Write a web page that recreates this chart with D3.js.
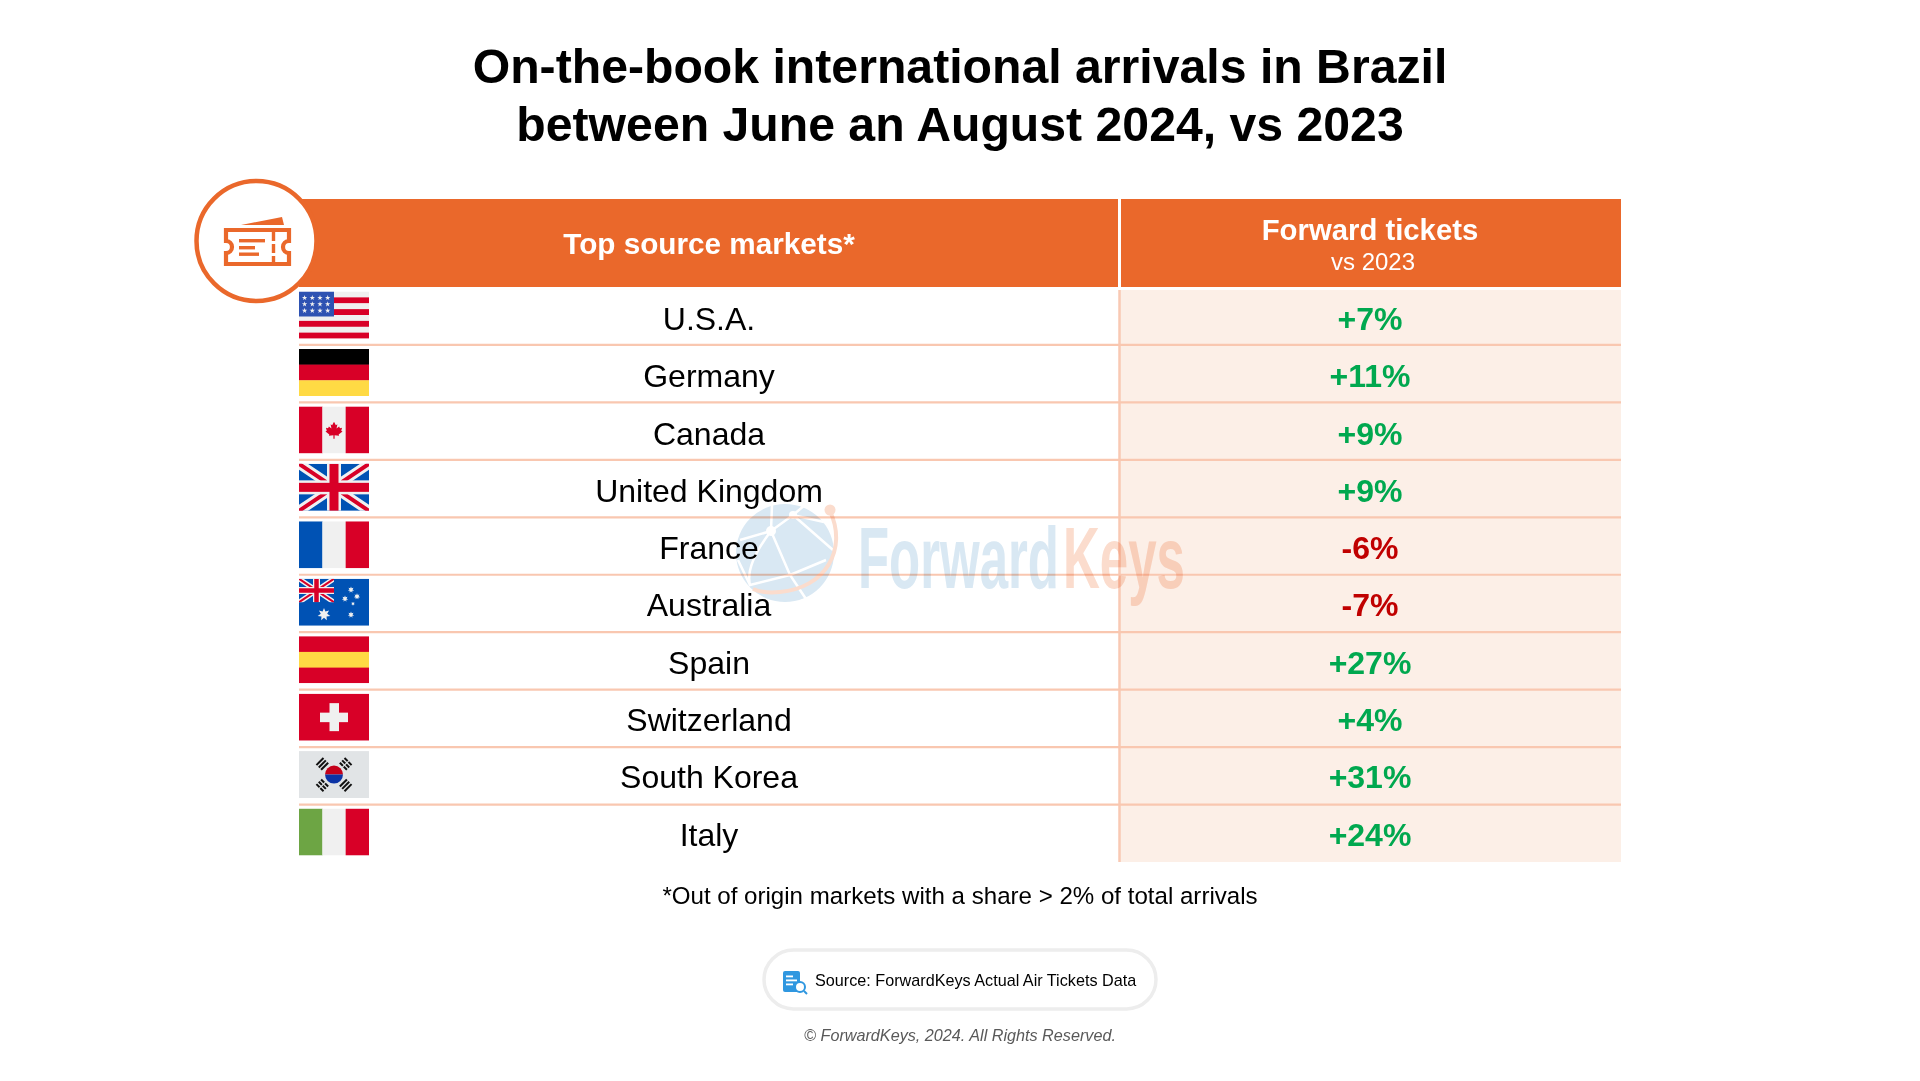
<!DOCTYPE html>
<html>
<head>
<meta charset="utf-8">
<script src="https://cdn.jsdelivr.net/npm/d3@7"></script>
<style>
  html, body { margin: 0; padding: 0; background: #fff; }
  svg { display: block; }
  text { font-family: "Liberation Sans", Arial, sans-serif; }
</style>
</head>
<body>
<div id="chart"></div>
<script>
// chart data
var markets = ["U.S.A.", "Germany", "Canada", "United Kingdom", "France", "Australia", "Spain", "Switzerland", "South Korea", "Italy"];
var ticketChange = [7, 11, 9, 9, -6, -7, 27, 4, 31, 24];
var flagCodes = ["us", "de", "ca", "gb", "fr", "au", "es", "ch", "kr", "it"];
var titleLines = ["On-the-book international arrivals in Brazil", "between June an August 2024, vs 2023"];

var ORANGE = "#ea682b", RED = "#d80027", BLUE = "#0052b4", WHITE = "#f0f0f0", YELLOW = "#ffda44";
var FW = 70, FH = 47;

var svg = d3.select("#chart").append("svg").attr("width", 1920).attr("height", 1081);
var defs = svg.append("defs");
defs.append("clipPath").attr("id", "flagClip").append("rect").attr("width", FW).attr("height", FH);
defs.append("clipPath").attr("id", "cantonClip").append("rect").attr("width", 35).attr("height", 23.5);

// layout scales
var y = d3.scaleBand().domain(markets).range([287.5, 862]);
var yText = d3.scaleBand().domain(markets).range([288.2, 861.2]); // text rows sit on a slightly tighter step
var x = d3.scaleOrdinal().domain(["market", "change"]).range([709, 1370]);
var tableLeft = 299, divider = 1119.5, tableRight = 1621;

function fmt(v) { return (v > 0 ? "+" : "") + v + "%"; }

// title
svg.append("g").selectAll("text").data(titleLines).join("text")
  .attr("x", 960).attr("y", function(d, i) { return 83 + i * 58; })
  .attr("text-anchor", "middle").attr("font-size", 48.2).attr("font-weight", "bold").attr("fill", "#000")
  .text(function(d) { return d; });

// header band
svg.append("rect").attr("x", tableLeft).attr("y", 199).attr("width", tableRight - tableLeft).attr("height", 88).attr("fill", ORANGE);
svg.append("line").attr("x1", divider).attr("x2", divider).attr("y1", 199).attr("y2", 287).attr("stroke", "#fff").attr("stroke-width", 3);

svg.append("text").attr("x", x("market")).attr("y", 254).attr("text-anchor", "middle")
  .attr("font-size", 29.7).attr("font-weight", "bold").attr("fill", "#fff").text("Top source markets*");
svg.append("text").attr("x", x("change")).attr("y", 240).attr("text-anchor", "middle")
  .attr("font-size", 29.3).attr("font-weight", "bold").attr("fill", "#fff").text("Forward tickets");
svg.append("text").attr("x", x("change") + 3).attr("y", 270).attr("text-anchor", "middle")
  .attr("font-size", 24).attr("fill", "#fff").text("vs 2023");

// value column background + rules
svg.append("rect").attr("x", divider).attr("y", 290).attr("width", tableRight - divider).attr("height", 862 - 290).attr("fill", "#fcefe7");
svg.append("line").attr("x1", divider).attr("x2", divider).attr("y1", 290).attr("y2", 862).attr("stroke", "#f9c9b3").attr("stroke-width", 2.5);
svg.append("g").selectAll("line").data(markets.slice(1)).join("line")
  .attr("x1", tableLeft).attr("x2", tableRight)
  .attr("y1", function(d) { return y(d); }).attr("y2", function(d) { return y(d); })
  .attr("stroke", "#f9c7b0").attr("stroke-width", 2.2);

// watermark, multiply so the rules show through
var wm = svg.append("g").style("mix-blend-mode", "multiply");
wm.append("circle").attr("cx", 785).attr("cy", 553).attr("r", 49).attr("fill", "#d9e8f3");
var net = wm.append("g").attr("stroke", "#fff").attr("stroke-width", 2.5).attr("fill", "none");
net.append("path").attr("d", "M771 531 L740 540 M771 531 L772 505 M771 531 L793 515 L824 522 M793 515 L805 505 M771 531 L790 575 L808 602 M790 575 L826 560 M790 575 L750 585 L738 560 M771 531 Q745 565 750 585 M793 515 L833 550");
wm.append("circle").attr("cx", 771).attr("cy", 531).attr("r", 5).attr("fill", "#fff");
wm.append("circle").attr("cx", 793).attr("cy", 515).attr("r", 4).attr("fill", "#fff");
wm.append("path").attr("d", "M830 511 C848 550 825 588 780 592 C770 593 760 592 753 589")
  .attr("fill", "none").attr("stroke", "#fbdccd").attr("stroke-width", 4);
wm.append("circle").attr("cx", 830).attr("cy", 510).attr("r", 5.5).attr("fill", "#fbdccd");
wm.append("text").attr("x", 858).attr("y", 588).attr("font-weight", "bold")
  .attr("font-size", 88).attr("textLength", 201).attr("lengthAdjust", "spacingAndGlyphs")
  .attr("fill", "#d9e8f3").text("Forward");
wm.append("text").attr("x", 1063).attr("y", 588).attr("font-weight", "bold")
  .attr("font-size", 88).attr("textLength", 122).attr("lengthAdjust", "spacingAndGlyphs")
  .attr("fill", "#fbdccd").text("Keys");

// rows
var rows = svg.append("g").selectAll("g").data(markets).join("g")
  .attr("transform", function(d) { return "translate(0," + y(d) + ")"; });

var labels = svg.append("g").selectAll("g").data(markets).join("g")
  .attr("transform", function(d) { return "translate(0," + yText(d) + ")"; });

labels.append("text").attr("x", x("market")).attr("y", 41.8).attr("text-anchor", "middle")
  .attr("font-size", 32).attr("fill", "#000").text(function(d) { return d; });

labels.append("text").attr("x", x("change")).attr("y", 41.8).attr("text-anchor", "middle")
  .attr("font-size", 32).attr("font-weight", "bold")
  .attr("fill", function(d, i) { return ticketChange[i] >= 0 ? "#00a84f" : "#c00000"; })
  .text(function(d, i) { return fmt(ticketChange[i]); });

// flags
function roundStar(g, cx, cy, r) {
  var pts = d3.range(14).map(function(i) {
    var a = i * Math.PI / 7 - Math.PI / 2, rr = i % 2 ? r * 0.5 : r;
    return [rr * Math.cos(a), rr * Math.sin(a)];
  });
  g.append("path").attr("d", d3.line()(pts) + "Z").attr("fill", WHITE)
    .attr("transform", "translate(" + cx + "," + cy + ")");
}

var star = d3.symbol().type(d3.symbolStar);
var flagDraw = {
  us: function(g) {
    d3.range(8).forEach(function(i) {
      g.append("rect").attr("y", i * FH / 8).attr("width", FW).attr("height", FH / 8 + 0.3).attr("fill", i % 2 ? RED : WHITE);
    });
    g.append("rect").attr("width", 35).attr("height", 25).attr("fill", "#2e52b2");
    d3.range(4).forEach(function(c) {
      d3.range(3).forEach(function(r) {
        g.append("path").attr("d", star.size(9)()).attr("fill", WHITE)
          .attr("transform", "translate(" + (5.6 + c * 7.7) + "," + (6.3 + r * 6.4) + ")");
      });
    });
  },
  de: function(g) { stripesH(g, ["#000", RED, YELLOW]); },
  ca: function(g) {
    stripesV(g, [RED, WHITE, RED]);
    g.append("path").attr("fill", RED).attr("transform", "translate(35,23) scale(.85)")
      .attr("d", "M0-9L2.2-5 4-6 3-1 6-3.5 7-1.5 9.5-2 8.5 1.5 10 2.5 5.5 6 6 7.5 .7 7V11H-.7V7L-6 7.5-5.5 6-10 2.5-8.5 1.5-9.5-2-7-1.5-6-3.5-3-1-4-6-2.2-5Z");
  },
  gb: function(g) { unionJack(g, FW, FH); },
  fr: function(g) { stripesV(g, [BLUE, WHITE, RED]); },
  au: function(g) {
    g.append("rect").attr("width", FW).attr("height", FH).attr("fill", BLUE);
    var c = g.append("g").attr("clip-path", "url(#cantonClip)");
    unionJack(c, 35, 23.5);
    roundStar(g, 25, 35.7, 6.5);
    roundStar(g, 52, 11, 3.2);
    roundStar(g, 58, 17.7, 3.2);
    roundStar(g, 46, 20, 3.2);
    roundStar(g, 54, 25, 2);
    roundStar(g, 52, 36, 3.2);
  },
  es: function(g) {
    g.append("rect").attr("width", FW).attr("height", FH).attr("fill", RED);
    g.append("rect").attr("y", 15.7).attr("width", FW).attr("height", 15.7).attr("fill", YELLOW);
  },
  ch: function(g) {
    g.append("rect").attr("width", FW).attr("height", FH).attr("fill", RED);
    g.append("rect").attr("x", 21).attr("y", 19).attr("width", 28).attr("height", 9.5).attr("fill", WHITE);
    g.append("rect").attr("x", 30.5).attr("y", 9.5).attr("width", 9.5).attr("height", 28).attr("fill", WHITE);
  },
  kr: function(g) {
    var bg = "#e1e4e6";
    g.append("rect").attr("width", FW).attr("height", FH).attr("fill", bg);
    var cx = 35, cy = 23.5, r = 9;
    g.append("path").attr("transform", "translate(" + cx + "," + cy + ")").attr("fill", "#c4001a")
      .attr("d", "M" + (-r) + " 0A" + r + " " + r + " 0 0 1 " + r + " 0Z");
    g.append("path").attr("transform", "translate(" + cx + "," + cy + ")").attr("fill", "#0b33a5")
      .attr("d", "M" + (-r) + " 0A" + r + " " + r + " 0 0 0 " + r + " 0Z");
    [[-1, -1, 0], [1, -1, 1], [-1, 1, 1], [1, 1, 0]].forEach(function(t) {
      var a = g.append("g").attr("transform", "translate(" + (cx + t[0] * 11.7) + "," + (cy + t[1] * 10.7) + ") rotate(" + (t[0] * t[1] > 0 ? -45 : 45) + ")");
      [-3.3, 0, 3.3].forEach(function(dy) {
        a.append("rect").attr("x", -5).attr("y", dy - 1).attr("width", 10).attr("height", 2).attr("fill", "#111");
      });
      if (t[2]) a.append("rect").attr("x", -0.6).attr("y", -5).attr("width", 1.2).attr("height", 10).attr("fill", bg);
    });
  },
  it: function(g) { stripesV(g, ["#6da544", WHITE, RED]); }
};

function stripesH(g, cols) {
  cols.forEach(function(c, i) {
    g.append("rect").attr("y", i * FH / cols.length).attr("width", FW).attr("height", FH / cols.length + 0.3).attr("fill", c);
  });
}
function stripesV(g, cols) {
  cols.forEach(function(c, i) {
    g.append("rect").attr("x", i * FW / cols.length).attr("width", FW / cols.length + 0.3).attr("height", FH).attr("fill", c);
  });
}
function unionJack(g, w, h) {
  var k = w / FW;
  g.append("rect").attr("width", w).attr("height", h).attr("fill", BLUE);
  g.append("path").attr("d", "M0 0L" + w + " " + h + "M" + w + " 0L0 " + h).attr("stroke", WHITE).attr("stroke-width", 10 * k);
  g.append("path").attr("d", "M0 0L" + w + " " + h + "M" + w + " 0L0 " + h).attr("stroke", RED).attr("stroke-width", 4 * k);
  g.append("rect").attr("x", w / 2 - 7 * k).attr("width", 14 * k).attr("height", h).attr("fill", WHITE);
  g.append("rect").attr("y", h / 2 - 7 * k).attr("width", w).attr("height", 14 * k).attr("fill", WHITE);
  g.append("rect").attr("x", w / 2 - 4.5 * k).attr("width", 9 * k).attr("height", h).attr("fill", RED);
  g.append("rect").attr("y", h / 2 - 4.5 * k).attr("width", w).attr("height", 9 * k).attr("fill", RED);
}

rows.append("g")
  .attr("transform", "translate(" + tableLeft + ",4)")
  .attr("clip-path", "url(#flagClip)")
  .each(function(d, i) { flagDraw[flagCodes[i]](d3.select(this)); });

// ticket badge
svg.append("circle").attr("cx", 256.5).attr("cy", 241).attr("r", 60).attr("fill", "#fff")
  .attr("stroke", ORANGE).attr("stroke-width", 4.5);
var ticket = svg.append("g").attr("fill", ORANGE).attr("transform", "translate(1,0)");
ticket.append("path").attr("d", "M240 225L281 217L283 225Z");
ticket.append("path").attr("fill", "none").attr("stroke", ORANGE).attr("stroke-width", 4.2)
  .attr("d", "M225 230H288V241A6 6 0 0 0 288 253V264H225V253A6 6 0 0 0 225 241Z");
ticket.append("rect").attr("x", 238).attr("y", 239).attr("width", 26).attr("height", 3.4);
ticket.append("rect").attr("x", 238).attr("y", 246).attr("width", 16).attr("height", 3.4);
ticket.append("rect").attr("x", 238).attr("y", 252.5).attr("width", 20).attr("height", 3.4);
ticket.append("line").attr("x1", 272.5).attr("x2", 272.5).attr("y1", 232).attr("y2", 264)
  .attr("stroke", ORANGE).attr("stroke-width", 3.4).attr("stroke-dasharray", "9 3");

// footnote
svg.append("text").attr("x", 960).attr("y", 904).attr("text-anchor", "middle").attr("font-size", 24.1).attr("fill", "#000")
  .text("*Out of origin markets with a share > 2% of total arrivals");

// source pill
svg.append("rect").attr("x", 764).attr("y", 950).attr("width", 392).attr("height", 59).attr("rx", 29.5)
  .attr("fill", "#fff").attr("stroke", "#ededed").attr("stroke-width", 3.5);
var doc = svg.append("g");
doc.append("rect").attr("x", 783).attr("y", 971).attr("width", 17).attr("height", 21).attr("rx", 2).attr("fill", "#2f97e0");
doc.selectAll("rect.ln").data([975.5, 979.5, 983.5]).join("rect").attr("class", "ln")
  .attr("x", 786).attr("y", function(d) { return d; }).attr("width", function(d, i) { return i == 1 ? 11 : 7; }).attr("height", 1.8).attr("fill", "#fff");
doc.append("circle").attr("cx", 800).attr("cy", 987).attr("r", 5).attr("fill", "#fff").attr("stroke", "#2f97e0").attr("stroke-width", 2);
doc.append("line").attr("x1", 804).attr("y1", 991).attr("x2", 807).attr("y2", 994).attr("stroke", "#2f97e0").attr("stroke-width", 2);
svg.append("text").attr("x", 815).attr("y", 986).attr("font-size", 16.2).attr("fill", "#000")
  .text("Source: ForwardKeys Actual Air Tickets Data");

// copyright
svg.append("text").attr("x", 960).attr("y", 1041).attr("text-anchor", "middle").attr("font-size", 16.2)
  .attr("font-style", "italic").attr("fill", "#595959")
  .text("© ForwardKeys, 2024. All Rights Reserved.");
</script>
</body>
</html>
